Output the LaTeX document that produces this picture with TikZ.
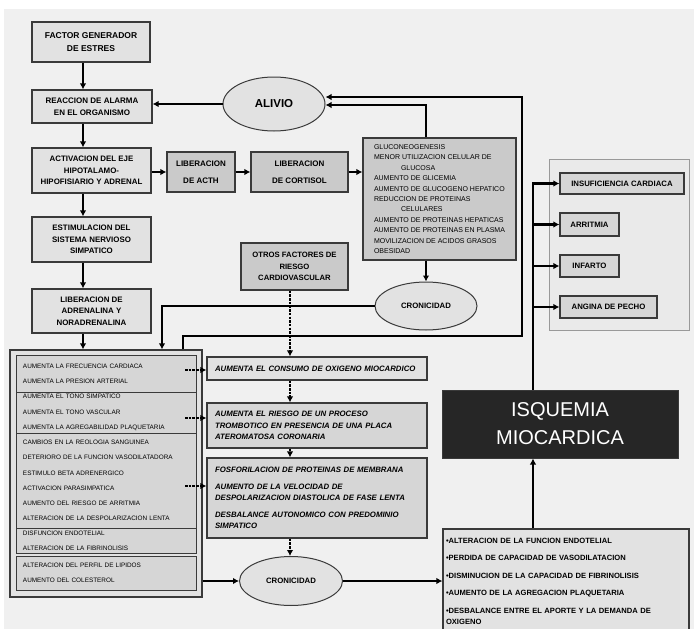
\documentclass[tikz,border=0pt]{standalone}
\usepackage{fontspec}
\setmainfont{Liberation Sans}
\usetikzlibrary{arrows.meta,shapes.geometric,calc}
\definecolor{bgc}{HTML}{F0F0F0}
\definecolor{boxl}{HTML}{E2E2E2}
\definecolor{boxd}{HTML}{CACACA}
\definecolor{boxm}{HTML}{D6D6D6}
\definecolor{bordc}{HTML}{3A3A3A}
\definecolor{grpc}{HTML}{EAEAEA}
\definecolor{isqc}{HTML}{262626}
\begin{document}
\begin{tikzpicture}[x=1pt,y=-1pt,
  box/.style={draw=bordc, line width=1.2pt, fill=boxl, inner sep=0pt, align=center,
    font=\bfseries\fontsize{7.9}{11.5}\selectfont},
  boxdk/.style={box, fill=boxd},
  sect/.style={draw=bordc, line width=0.9pt, fill=boxm, inner xsep=7pt, inner ysep=0pt,
    text width=166pt, minimum width=180pt, align=left, font=\fontsize{6.4}{15.2}\selectfont},
  midbox/.style={draw=bordc, line width=1.2pt, fill=boxm, inner xsep=8pt, inner ysep=0pt,
    text width=204pt, minimum width=220pt, align=left,
    font=\bfseries\itshape\fontsize{7.8}{11.5}\selectfont},
  outbox/.style={box, fill=boxm, font=\bfseries\fontsize{7.8}{9}\selectfont},
  ell/.style={ellipse, draw=bordc, line width=1pt, fill=boxl, inner sep=0pt},
  arr/.style={line width=2.2pt, -{Latex[length=6pt,width=6.5pt]}},
  darr/.style={arr, dash pattern=on 2.5pt off 1.2pt}
]
\useasboundingbox (0,0) rectangle (694,629);
\fill[bgc] (4,9) rectangle (694,629);

% left column
\node[box, minimum width=118pt, minimum height=40pt, font=\bfseries\fontsize{8.5}{13}\selectfont] (f1) at (91,42) {FACTOR GENERADOR\\DE ESTRES};
\node[box, minimum width=120pt, minimum height=33pt, font=\bfseries\fontsize{8}{12.5}\selectfont] (f2) at (92,106.5) {REACCION DE ALARMA\\EN EL ORGANISMO};
\node[box, minimum width=119pt, minimum height=45pt] (f4) at (91.5,170.5) {ACTIVACION DEL EJE\\HIPOTALAMO-\\HIPOFISIARIO Y ADRENAL};
\node[box, minimum width=119pt, minimum height=45pt] (f9) at (91.5,239.5) {ESTIMULACION DEL\\SISTEMA NERVIOSO\\SIMPATICO};
\node[box, minimum width=119pt, minimum height=44pt] (f10) at (91.5,311) {LIBERACION DE\\ADRENALINA Y\\NORADRENALINA};

\node[boxdk, minimum width=68pt, minimum height=40pt, font=\bfseries\fontsize{8}{17}\selectfont] (acth) at (201,172) {LIBERACION\\DE ACTH};
\node[boxdk, minimum width=97pt, minimum height=40pt, font=\bfseries\fontsize{8}{17}\selectfont] (cort) at (299.5,172) {LIBERACION\\DE CORTISOL};
\node[boxdk, minimum width=107pt, minimum height=47pt, font=\bfseries\fontsize{7.7}{11.5}\selectfont] (otros) at (294.5,266.5) {OTROS FACTORES DE\\RIESGO\\CARDIOVASCULAR};

\node[boxdk, minimum width=153pt, minimum height=122pt, align=left, font=\fontsize{7}{10.4}\selectfont] (gluco) at (439.5,199) {GLUCONEOGENESIS\\MENOR UTILIZACION CELULAR DE\\\hspace*{27pt}GLUCOSA\\AUMENTO DE GLICEMIA\\AUMENTO DE GLUCOGENO HEPATICO\\REDUCCION DE PROTEINAS\\\hspace*{27pt}CELULARES\\AUMENTO DE PROTEINAS HEPATICAS\\AUMENTO DE PROTEINAS EN PLASMA\\MOVILIZACION DE ACIDOS GRASOS\\OBESIDAD};

\node[ell, minimum width=102pt, minimum height=54pt, font=\bfseries\fontsize{11.5}{12}\selectfont] (alivio) at (274,104) {ALIVIO};
\node[ell, minimum width=102pt, minimum height=48pt, font=\bfseries\fontsize{7.8}{9}\selectfont] (cron1) at (426,306) {CRONICIDAD};

% big left box
\node[draw=bordc, line width=1.2pt, fill=boxl, minimum width=192pt, minimum height=247pt, inner sep=0pt] (big) at (106,473.5) {};
\node[sect, minimum height=37pt] (sa) at (106,373.5) {AUMENTA LA FRECUENCIA CARDIACA\\AUMENTA LA PRESION ARTERIAL};
\node[sect, minimum height=41pt] (sb) at (106,412.5) {AUMENTA EL TONO SIMPATICO\\AUMENTA EL TONO VASCULAR\\AUMENTA LA AGREGABILIDAD PLAQUETARIA};
\node[sect, minimum height=95pt] (sc) at (106,480.5) {CAMBIOS EN LA REOLOGIA SANGUINEA\\DETERIORO DE LA FUNCION VASODILATADORA\\ESTIMULO BETA ADRENERGICO\\ACTIVACION PARASIMPATICA\\AUMENTO DEL RIESGO DE ARRITMIA\\ALTERACION DE LA DESPOLARIZACION LENTA};
\node[sect, minimum height=25pt] (sd) at (106,540.5) {DISFUNCION ENDOTELIAL\\ALTERACION DE LA FIBRINOLISIS};
\node[sect, minimum height=34pt] (se) at (106,573) {ALTERACION DEL PERFIL DE LIPIDOS\\AUMENTO DEL COLESTEROL};

% middle boxes
\node[midbox, minimum height=23pt, fill=boxl] (m1) at (317,368.5) {AUMENTA EL CONSUMO DE OXIGENO MIOCARDICO};
\node[midbox, minimum height=45pt] (m2) at (317,425.5) {AUMENTA EL RIESGO DE UN PROCESO\\TROMBOTICO EN PRESENCIA DE UNA PLACA\\ATEROMATOSA CORONARIA};
\node[midbox, minimum height=80pt] (m3) at (317,498) {FOSFORILACION DE PROTEINAS DE MEMBRANA\\[5pt]AUMENTO DE LA VELOCIDAD DE\\DESPOLARIZACION DIASTOLICA DE FASE LENTA\\[5pt]DESBALANCE AUTONOMICO CON PREDOMINIO\\SIMPATICO};
\node[ell, minimum width=103pt, minimum height=49pt, font=\bfseries\fontsize{7.8}{9}\selectfont] (cron2) at (291,581) {CRONICIDAD};

% right side
\node[draw=black!40, line width=0.8pt, fill=grpc, minimum width=140pt, minimum height=171pt, inner sep=0pt] (grp) at (619,244.5) {};
\node[outbox, minimum width=124pt, minimum height=21pt] (ins) at (622,183.5) {INSUFICIENCIA CARDIACA};
\node[outbox, minimum width=59pt, minimum height=23pt] (arrit) at (589.5,224.5) {ARRITMIA};
\node[outbox, minimum width=59pt, minimum height=22pt] (inf) at (589.5,266) {INFARTO};
\node[outbox, minimum width=97pt, minimum height=22pt] (ang) at (608.5,307) {ANGINA DE PECHO};

\node[draw=bordc, line width=1pt, fill=isqc, text=white, minimum width=236pt, minimum height=68pt, inner sep=0pt, align=center, font=\fontsize{20}{28}\selectfont] (isq) at (560,424) {ISQUEMIA\\MIOCARDICA};

\node[draw=bordc, line width=1.2pt, fill=boxl, minimum width=246pt, minimum height=104pt, inner xsep=3pt, inner ysep=0pt, text width=240pt, align=left, font=\bfseries\fontsize{7.6}{11}\selectfont] (bot) at (566,581) {\textbullet ALTERACION DE LA FUNCION ENDOTELIAL\\[6.5pt]\textbullet PERDIDA DE CAPACIDAD DE VASODILATACION\\[6.5pt]\textbullet DISMINUCION DE LA CAPACIDAD DE FIBRINOLISIS\\[6.5pt]\textbullet AUMENTO DE LA AGREGACION PLAQUETARIA\\[6.5pt]\textbullet DESBALANCE ENTRE EL APORTE Y LA DEMANDA DE\\OXIGENO};

% helper coordinates
\coordinate (colx) at (83,0);
\coordinate (bx) at (183,0);
\coordinate (cx) at (162,0);
\coordinate (loopR) at (522,336);
\coordinate (dx) at (290,0);
\coordinate (vx) at (533,0);
\coordinate (d1) at (185,370);
\coordinate (d2) at (185,418);
\coordinate (d3) at (185,486);

% connectors, left column
\draw[arr] (f1.south -| colx) -- (f2.north -| colx);
\draw[arr] (f2.south -| colx) -- (f4.north -| colx);
\draw[arr] (f4.south -| colx) -- (f9.north -| colx);
\draw[arr] (f9.south -| colx) -- (f10.north -| colx);
\draw[arr] (f10.south -| colx) -- (big.north -| colx);
\draw[arr] (alivio.west) -- (alivio.west -| f2.east);
\draw[arr] (f4.east |- acth.west) -- (acth.west);
\draw[arr] (acth.east) -- (cort.west);
\draw[arr] (cort.east) -- (cort.east -| gluco.west);
\draw[arr] (gluco.south -| cron1) -- (cron1.north);
\draw[arr] (gluco.north -| cron1) |- ([yshift=-1pt]alivio.east);
\draw[arr] (big.north -| bx) |- (loopR) |- ([yshift=7pt]alivio.east);
\draw[arr] (cron1.west) -| (big.north -| cx);

% dotted chain
\draw[darr] (otros.south -| dx) -- (m1.north -| dx);
\draw[darr] (m1.south -| dx) -- (m2.north -| dx);
\draw[darr] (m2.south -| dx) -- (m3.north -| dx);
\draw[darr] (m3.south -| dx) -- (cron2.north -| dx);
\draw[darr] (d1) -- (d1 -| m1.west);
\draw[darr] (d2) -- (d2 -| m2.west);
\draw[darr] (d3) -- (d3 -| m3.west);

% bottom chain
\draw[arr] (big.east |- cron2.west) -- (cron2.west);
\draw[arr] (cron2.east) -- (cron2.east -| bot.west);
\draw[arr] (bot.north -| vx) -- (isq.south -| vx);

% outcomes
\draw[arr] (isq.north -| vx) |- (ins.west);
\draw[arr] (isq.north -| vx) |- (arrit.west);
\draw[arr] (isq.north -| vx) |- (inf.west);
\draw[arr] (isq.north -| vx) |- (ang.west);
\end{tikzpicture}
\end{document}
